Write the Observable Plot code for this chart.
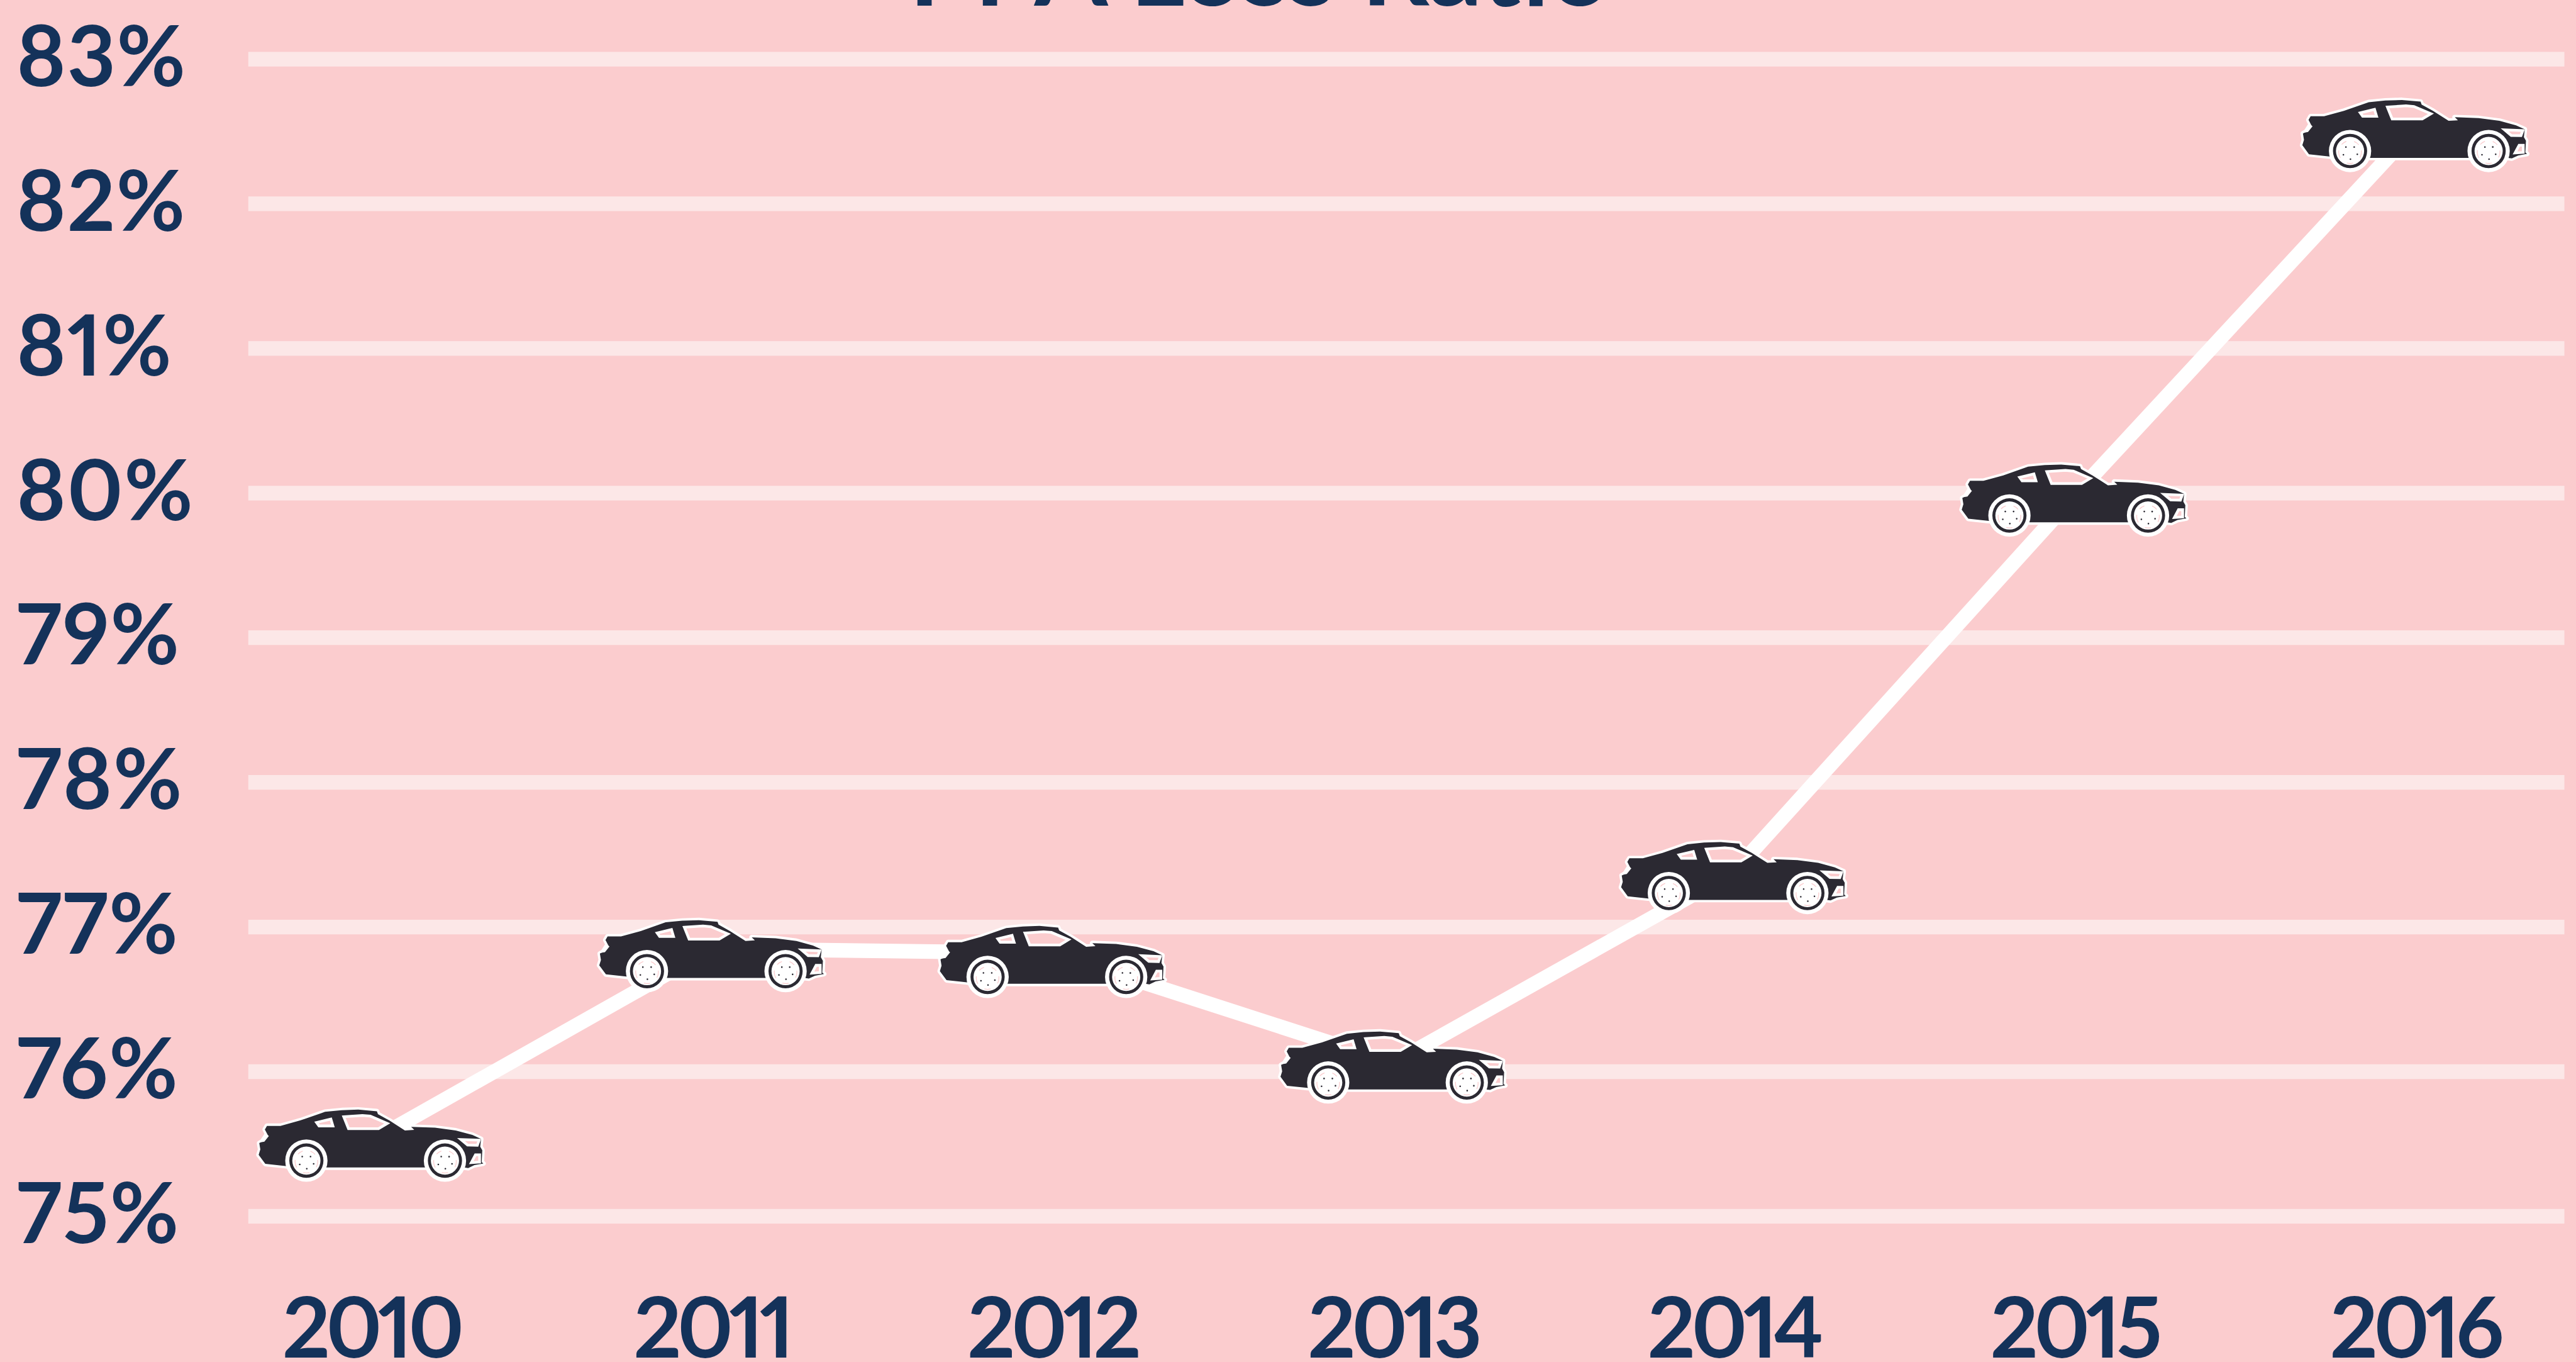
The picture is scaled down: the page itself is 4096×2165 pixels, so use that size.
<!DOCTYPE html>
<html>
<head>
<meta charset="utf-8">
<script src="https://cdn.jsdelivr.net/npm/d3@7"></script>
<script src="https://cdn.jsdelivr.net/npm/@observablehq/plot@0.6"></script>
<style>html,body{margin:0;padding:0;background:#FBCCCE;overflow:hidden}svg{display:block}svg text{font-feature-settings:"pnum" 1,"lnum" 1}.year-labels text{letter-spacing:-0.05em}.pct-labels text{letter-spacing:0.012em}</style>
</head>
<body>
<div id="chart"></div>
<script>
const years = [2010, 2011, 2012, 2013, 2014, 2015, 2016];
const lossRatio = [75.52, 76.85, 76.82, 76.06, 77.38, 79.98, 82.52];
const carLevels = [75.52, 76.83, 76.79, 76.06, 77.37, 79.98, 82.5];
const yTicks = [75, 76, 77, 78, 79, 80, 81, 82, 83];
const titleText = "PPA Loss Ratio";

const k = 4096 / 4752;
const BG = "#FBCCCE", GRID = "#FCE7E7", INK = "#14325A", CAR = "#2B2932";
const FONT = "Lato";
const table = years.map((year, i) => ({year, value: lossRatio[i], car: carLevels[i]}));

// car outline, drawn in a local frame and centred on each data point by Plot.dot
const zx0 = 742, zy0 = 459;
const P = ([a, b]) => [(a - zx0) / 2.613 * k, (b - zy0) / 3 * k];
function poly(pts) {
  return {draw(c) {
    pts.forEach((p, i) => { const [x, y] = P(p); i ? c.lineTo(x, y) : c.moveTo(x, y); });
    c.closePath();
  }};
}
function polys(list) {
  return {draw(c) { list.forEach(l => poly(l).draw(c)); }};
}
function circles(r, centers) {
  return {draw(c) {
    centers.forEach(p => { const [x, y] = P(p); c.moveTo(x + r * k, y); c.arc(x, y, r * k, 0, 2 * Math.PI); c.closePath(); });
  }};
}
const bodyPts = [[240,375],[305,375],[400,345],[520,297],[600,288],[680,285],[770,294],[775,310],[830,345],[905,400],[950,397],[935,380],[1050,385],[1150,400],[1230,425],[1272,447],[1268,490],[1278,510],[1275,575],[1283,583],[1240,592],[1210,608],[1190,605],[530,605],[330,597],[232,585],[200,535],[208,505],[203,470],[222,458],[246,430],[230,395]];
const wheels = [[430,567],[1098,567]];
const hubDots = [[410,545],[450,545],[465,585],[432,612],[398,588],[1080,545],[1118,545],[1132,585],[1100,612],[1066,588]];
const pinkWindows = [
  [[479,356],[548,337],[558,375],[491,375]],
  [[610,324],[700,317],[738,321],[820,361],[778,390],[633,390]],
  [[1175,450],[1263,454],[1254,482],[1207,481]],
  [[1245,535],[1265,535],[1265,575],[1225,578]],
  [[214,457],[232,425],[240,432],[224,455]]
];
const hubArcs = {draw(c) {
  for (const cx of [430, 1098]) {
    for (const [a0, a1] of [[-2.4,-1.9],[-1.2,-0.7],[-0.15,0.5],[1.3,1.85],[2.6,3.3]]) {
      const [x, y] = P([cx, 573]);
      const r = 52 * k / 2.613 * 1.05;
      c.moveTo(x + r * Math.cos(a0), y + r * Math.sin(a0));
      c.arc(x, y, r, a0, a1);
    }
  }
}};
const carLayer = (symbol, opts) => Plot.dot(table, {x: "year", y: "car", symbol, r: 10, ...opts});
const tickFont = {fontSize: 155 * k, fontWeight: 700, fontFamily: FONT, fill: INK, fontVariant: "normal"};

const chart = Plot.plot({
  width: 4096,
  height: 2165,
  margin: 0,
  style: {background: BG, overflow: "hidden"},
  x: {domain: [2010, 2016], range: [684 * k, 4454 * k], axis: null},
  y: {domain: [75, 83], range: [2242.5 * k, 108.5 * k], axis: null},
  marks: [
    Plot.ruleY(yTicks, {x1: () => 2010 - (684 - 458) / 628.4, x2: () => 2010 + (4731 - 684) / 628.4, stroke: GRID, strokeWidth: 27 * k}),
    Plot.line(table, {x: "year", y: "value", stroke: "#fff", strokeWidth: 27 * k, strokeLinejoin: "miter", strokeLinecap: "butt"}),
    carLayer(poly(bodyPts), {fill: CAR, stroke: "#fff", strokeWidth: 9 * k, paintOrder: "stroke", strokeLinejoin: "round"}),
    carLayer(polys(pinkWindows), {fill: BG, stroke: "#fff", strokeWidth: 5 * k, strokeLinejoin: "miter"}),
    carLayer(circles(39, wheels), {fill: "#fff"}),
    carLayer(circles(31.5, wheels), {fill: CAR}),
    carLayer(circles(26, wheels), {fill: "#fff"}),
    carLayer(circles(1.5, hubDots), {fill: CAR}),
    carLayer(hubArcs, {fill: "none", stroke: BG, strokeWidth: 1.5 * k}),
    Plot.axisY(yTicks, {anchor: "left", frameAnchor: "left", tickSize: 0, tickPadding: -30 * k, textAnchor: "start", tickFormat: d => d + "%", label: null, className: "pct-labels", ...tickFont}),
    Plot.axisX(years, {anchor: "bottom", frameAnchor: "bottom", tickSize: 0, tickPadding: 0, textAnchor: "middle", lineAnchor: "bottom", tickFormat: d => String(d), label: null, className: "year-labels", ...tickFont, dy: -9 * k}),
    Plot.text([titleText], {frameAnchor: "top-left", dx: 1676 * k, dy: 10 * k, lineAnchor: "bottom", textAnchor: "start", ...tickFont, fontSize: 195 * k})
  ]
});
document.getElementById("chart").append(chart);
</script>
</body>
</html>
